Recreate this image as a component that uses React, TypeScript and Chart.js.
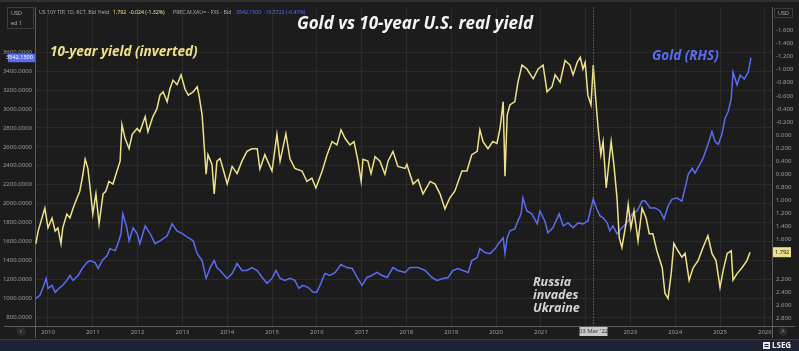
import React, { useEffect, useRef } from "react";
import { Chart, registerables } from "chart.js";

Chart.register(...registerables);

// ---- data (decimal years) ----
const goldYears = [
  2009.73, 2009.82, 2009.89, 2009.96, 2010.0, 2010.09, 2010.16, 2010.27, 2010.33, 2010.42,
  2010.49, 2010.56, 2010.67, 2010.78, 2010.87, 2010.94, 2011.05, 2011.12, 2011.21, 2011.32,
  2011.38, 2011.5, 2011.56, 2011.63, 2011.67, 2011.76, 2011.81, 2011.9, 2011.99, 2012.05,
  2012.17, 2012.28, 2012.39, 2012.5, 2012.66, 2012.77, 2012.88, 2013.01, 2013.13, 2013.24,
  2013.33, 2013.44, 2013.53, 2013.62, 2013.71, 2013.77, 2013.84, 2014.0, 2014.11, 2014.22,
  2014.33, 2014.44, 2014.55, 2014.67, 2014.78, 2014.89, 2015.0, 2015.09, 2015.18, 2015.29,
  2015.4, 2015.51, 2015.6, 2015.69, 2015.8, 2015.92, 2016.0, 2016.09, 2016.18, 2016.29,
  2016.41, 2016.54, 2016.67, 2016.79, 2016.9, 2017.01, 2017.12, 2017.23, 2017.34, 2017.46,
  2017.57, 2017.7, 2017.81, 2017.97, 2018.08, 2018.26, 2018.42, 2018.57, 2018.68, 2018.82,
  2018.93, 2019.04, 2019.15, 2019.26, 2019.38, 2019.46, 2019.58, 2019.64, 2019.75, 2019.87,
  2019.98, 2020.07, 2020.16, 2020.2, 2020.25, 2020.31, 2020.42, 2020.49, 2020.56, 2020.6,
  2020.69, 2020.8, 2020.92, 2020.98, 2021.09, 2021.16, 2021.27, 2021.41, 2021.5, 2021.61,
  2021.72, 2021.83, 2021.94, 2022.05, 2022.17, 2022.25, 2022.32, 2022.39, 2022.48, 2022.54,
  2022.61, 2022.7, 2022.81, 2022.92, 2023.04, 2023.15, 2023.26, 2023.33, 2023.44, 2023.55,
  2023.66, 2023.75, 2023.84, 2023.93, 2024.04, 2024.15, 2024.22, 2024.29, 2024.38, 2024.44,
  2024.55, 2024.62, 2024.73, 2024.82, 2024.89, 2024.96, 2025.04, 2025.11, 2025.18, 2025.25,
  2025.29, 2025.38, 2025.45, 2025.54, 2025.63, 2025.69,
];
const goldPrices = [
  999, 1031, 1115, 1209, 1104, 1136, 1062, 1115, 1136, 1188,
  1240, 1188, 1240, 1324, 1377, 1398, 1377, 1314, 1398, 1450,
  1524, 1503, 1576, 1681, 1891, 1744, 1607, 1744, 1681, 1576,
  1765, 1681, 1576, 1607, 1660, 1786, 1712, 1681, 1639, 1607,
  1471, 1398, 1209, 1324, 1398, 1324, 1293, 1209, 1261, 1366,
  1293, 1293, 1324, 1293, 1219, 1157, 1209, 1293, 1209, 1188,
  1209, 1188, 1104, 1136, 1115, 1062, 1062, 1157, 1261, 1240,
  1272, 1356, 1324, 1314, 1219, 1136, 1219, 1240, 1272, 1240,
  1219, 1324, 1293, 1272, 1324, 1324, 1293, 1219, 1188, 1209,
  1219, 1293, 1314, 1293, 1272, 1398, 1429, 1524, 1482, 1471,
  1524, 1587, 1639, 1471, 1639, 1712, 1733, 1817, 1891, 2058,
  1922, 1891, 1786, 1922, 1817, 1691, 1744, 1891, 1765, 1796,
  1744, 1796, 1786, 1817, 2048, 1943, 1870, 1849, 1796, 1712,
  1765, 1681, 1744, 1796, 1891, 1922, 2027, 2027, 1954, 1954,
  1922, 1838, 1975, 2048, 2058, 2027, 2163, 2310, 2373, 2321,
  2415, 2478, 2625, 2761, 2656, 2625, 2730, 2897, 2971, 3107,
  3390, 3254, 3359, 3317, 3390, 3542,
];

const yieldYears = [
  2009.73, 2009.78, 2009.93, 2010.0, 2010.09, 2010.16, 2010.22, 2010.29, 2010.33, 2010.42,
  2010.49, 2010.56, 2010.65, 2010.71, 2010.78, 2010.83, 2010.89, 2010.94, 2011.0, 2011.07,
  2011.14, 2011.23, 2011.29, 2011.36, 2011.45, 2011.54, 2011.61, 2011.65, 2011.72, 2011.81,
  2011.88, 2011.99, 2012.05, 2012.17, 2012.23, 2012.34, 2012.43, 2012.5, 2012.57, 2012.66,
  2012.72, 2012.79, 2012.88, 2012.97, 2013.06, 2013.13, 2013.24, 2013.33, 2013.37, 2013.44,
  2013.48, 2013.53, 2013.57, 2013.66, 2013.71, 2013.77, 2013.84, 2013.88, 2014.0, 2014.11,
  2014.22, 2014.33, 2014.44, 2014.55, 2014.67, 2014.73, 2014.84, 2015.0, 2015.11, 2015.18,
  2015.31, 2015.4, 2015.51, 2015.67, 2015.78, 2015.89, 2015.98, 2016.12, 2016.23, 2016.34,
  2016.45, 2016.54, 2016.63, 2016.74, 2016.83, 2016.92, 2016.99, 2017.03, 2017.14, 2017.21,
  2017.3, 2017.41, 2017.52, 2017.59, 2017.7, 2017.81, 2017.97, 2018.01, 2018.15, 2018.26,
  2018.37, 2018.53, 2018.64, 2018.75, 2018.86, 2018.97, 2019.08, 2019.24, 2019.35, 2019.46,
  2019.58, 2019.64, 2019.71, 2019.82, 2019.93, 2020.02, 2020.09, 2020.16, 2020.2, 2020.25,
  2020.31, 2020.42, 2020.49, 2020.58, 2020.69, 2020.83, 2020.94, 2021.05, 2021.14, 2021.25,
  2021.32, 2021.43, 2021.54, 2021.65, 2021.72, 2021.81, 2021.88, 2021.94, 2021.99, 2022.05,
  2022.12, 2022.17, 2022.23, 2022.28, 2022.34, 2022.39, 2022.46, 2022.5, 2022.57, 2022.63,
  2022.7, 2022.75, 2022.81, 2022.9, 2022.95, 2023.01, 2023.08, 2023.17, 2023.26, 2023.35,
  2023.42, 2023.5, 2023.59, 2023.71, 2023.77, 2023.84, 2023.91, 2023.97, 2024.06, 2024.15,
  2024.22, 2024.31, 2024.4, 2024.51, 2024.62, 2024.73, 2024.82, 2024.91, 2025.0, 2025.07,
  2025.16, 2025.25, 2025.29, 2025.38, 2025.49, 2025.6, 2025.67,
];
const realYields = [
  1.66, 1.47, 1.12, 1.42, 1.27, 1.47, 1.42, 1.66, 1.42, 1.21,
  1.27, 1.12, 0.96, 0.86, 0.6, 0.37, 0.51, 0.81, 1.21, 0.9,
  1.36, 0.9, 0.86, 0.71, 0.75, 0.55, 0.4, -0.16, 0.05, 0.21,
  -0.01, -0.1, -0.05, -0.28, -0.05, -0.28, -0.4, -0.61, -0.66, -0.51,
  -0.7, -0.84, -0.77, -0.92, -0.7, -0.61, -0.66, -0.74, -0.61, -0.31,
  0.1, 0.6, 0.3, 0.45, 0.9, 0.4, 0.36, 0.45, 0.75, 0.48,
  0.59, 0.4, 0.25, 0.21, 0.21, 0.52, 0.3, 0.55, -0.01, 0.4,
  -0.02, 0.36, 0.51, 0.55, 0.71, 0.66, 0.81, 0.55, 0.3, 0.1,
  0.15, -0.08, 0.05, 0.15, 0.1, 0.4, 0.71, 0.37, 0.4, 0.59,
  0.33, 0.4, 0.6, 0.4, 0.25, 0.48, 0.51, 0.45, 0.75, 0.68,
  0.9, 0.71, 0.75, 0.9, 1.13, 0.96, 0.86, 0.55, 0.55, 0.3,
  0.25, -0.08, 0.1, 0.21, 0.1, 0.13, -0.1, -0.51, 0.63, -0.31,
  -0.46, -0.51, -0.81, -1.07, -1.01, -0.86, -1.01, -1.07, -0.66, -0.74,
  -0.92, -0.81, -1.14, -1.07, -0.92, -1.11, -1.19, -1.01, -1.11, -0.61,
  -0.46, -1.07, -0.51, -0.1, 0.3, 0.1, 0.81, 0.55, 0.1, 0.45,
  0.96, 1.57, 1.72, 1.36, 1.06, 1.42, 1.16, 1.62, 1.12, 1.27,
  1.51, 1.51, 1.77, 2.03, 2.42, 2.5, 2.12, 1.66, 1.77, 1.87,
  1.81, 2.22, 2.03, 1.92, 1.72, 1.54, 1.81, 1.92, 2.33, 2.07,
  1.81, 1.77, 2.22, 2.12, 2.03, 1.92, 1.792,
];

const yearTicks = [2010, 2011, 2012, 2013, 2014, 2015, 2016, 2017, 2018, 2019, 2020, 2021, 2022, 2023, 2024, 2025, 2026];
const goldTicks = [800, 1000, 1200, 1400, 1600, 1800, 2000, 2200, 2400, 2600, 2800, 3000, 3200, 3400, 3600];
const yieldTicks = [-1.6, -1.4, -1.2, -1.0, -0.8, -0.6, -0.4, -0.2, 0, 0.2, 0.4, 0.6, 0.8, 1.0, 1.2, 1.4, 1.6, 2.2, 2.4, 2.6, 2.8];

const eventYear = 2022.17; // 03 Mar '22
const eventLabel = "03 Mar '22";
const lastGold = 3542.15;
const lastYield = 1.792;

const BG = "#1c1c1c";
const GRID = "#2a2a2a";
const AXIS_LINE = "#5c5c5c";
const TICK = "#9c9c9c";
const YELLOW = "#efe18a";
const BLUE = "#5a6cf0";
const ANNOT_FONT = "'Open Sans'";

const decorPlugin = {
  id: "decor",
  beforeDraw(chart: any) {
    const { ctx, width, height } = chart;
    ctx.save();
    ctx.fillStyle = BG;
    ctx.fillRect(0, 0, width, height);
    ctx.fillStyle = "#303030";
    ctx.fillRect(0, 0, width, 2);
    ctx.fillStyle = "#3a3a3a";
    ctx.fillRect(0, 339, width, 1);
    ctx.fillStyle = "#1e2333";
    ctx.fillRect(0, 340, width, height - 340);
    ctx.restore();
  },
  afterDraw(chart: any) {
    const { ctx, chartArea } = chart;
    const xs = chart.scales.x;
    const yl = chart.scales.y;
    const yr = chart.scales.y2;
    ctx.save();

    ctx.strokeStyle = AXIS_LINE;
    ctx.lineWidth = 1;
    ctx.beginPath();
    ctx.moveTo(4, chartArea.bottom + 0.5);
    ctx.lineTo(795, chartArea.bottom + 0.5);
    ctx.moveTo(chartArea.left + 0.5, chartArea.bottom);
    ctx.lineTo(chartArea.left + 0.5, 338);
    ctx.moveTo(chartArea.right + 0.5, chartArea.bottom);
    ctx.lineTo(chartArea.right + 0.5, 338);
    ctx.stroke();

    const ex = Math.round(xs.getPixelForValue(eventYear)) + 0.5;
    ctx.strokeStyle = "#8c8c8c";
    ctx.setLineDash([1, 2]);
    ctx.beginPath();
    ctx.moveTo(ex, chartArea.top);
    ctx.lineTo(ex, chartArea.bottom);
    ctx.stroke();
    ctx.setLineDash([]);

    ctx.fillStyle = "#c9c9c9";
    ctx.fillRect(ex - 14, 327, 28, 9);
    ctx.fillStyle = "#333";
    ctx.font = "6px 'Noto Sans'";
    ctx.textAlign = "center";
    ctx.textBaseline = "middle";
    ctx.fillText(eventLabel, ex, 331.5);

    ctx.textAlign = "left";
    ctx.font = "5.2px 'Noto Sans'";
    ctx.fillStyle = "#a8a8a8";
    ctx.fillText("US 10Y TIP, 1D, RCT, Bid Yield", 39, 13);
    ctx.fillStyle = YELLOW;
    ctx.fillText("1.792  -0.024 (-1.32%)", 113, 13);
    ctx.fillStyle = "#a8a8a8";
    ctx.fillText("PREC.M.XAU= - FXS - Bid", 173, 13);
    ctx.fillStyle = BLUE;
    ctx.fillText("3542.1500  -16.5722 (-0.47%)", 236, 13);

    ctx.strokeStyle = "#3c3c3c";
    ctx.strokeRect(7.5, 7.5, 26, 21);
    ctx.fillStyle = "#a8a8a8";
    ctx.font = "5.5px 'Noto Sans'";
    ctx.fillText("USD", 11, 13);
    ctx.fillText("ed 1", 11, 23);
    ctx.strokeRect(774.5, 8.5, 18, 9);
    ctx.textAlign = "center";
    ctx.fillText("USD", 783.5, 13);

    ctx.fillStyle = "#2c2c2c";
    ctx.beginPath();
    ctx.arc(21, 331.5, 4.5, 0, Math.PI * 2);
    ctx.fill();
    ctx.beginPath();
    ctx.arc(783, 331.5, 4.5, 0, Math.PI * 2);
    ctx.fill();
    ctx.fillStyle = "#8a8a8a";
    ctx.font = "5px 'Noto Sans'";
    ctx.fillText("z", 21, 331.5);
    ctx.fillText("A", 783, 331.5);

    ctx.fillStyle = "#e8e8e8";
    ctx.fillRect(763, 342, 7, 7);
    ctx.fillStyle = "#1e2333";
    ctx.fillRect(764.5, 344, 4, 1);
    ctx.fillRect(764.5, 346, 4, 1);
    ctx.fillStyle = "#f0f0f0";
    ctx.font = "bold 8px 'Noto Sans'";
    ctx.textAlign = "left";
    ctx.fillText("LSEG", 772, 345.5);

    ctx.fillStyle = "#f4f4f4";
    ctx.font = `italic bold 17px ${ANNOT_FONT}`;
    ctx.textAlign = "center";
    ctx.fillText("Gold vs 10-year U.S. real yield", 415, 24);

    ctx.textAlign = "left";
    ctx.fillStyle = YELLOW;
    ctx.font = `italic bold 13.5px ${ANNOT_FONT}`;
    ctx.fillText("10-year yield (inverted)", 50, 52);
    ctx.fillStyle = BLUE;
    ctx.font = `italic bold 13.5px ${ANNOT_FONT}`;
    ctx.fillText("Gold (RHS)", 652, 56);

    ctx.fillStyle = "#d4d4d4";
    ctx.font = `italic bold 12.5px ${ANNOT_FONT}`;
    ctx.fillText("Russia", 533, 282);
    ctx.fillText("invades", 533, 295);
    ctx.fillText("Ukraine", 533, 308);

    const gy = yl.getPixelForValue(lastGold);
    ctx.fillStyle = BLUE;
    ctx.fillRect(8, gy - 4, 27, 8.5);
    ctx.fillStyle = "#ffffff";
    ctx.font = "5.6px 'Noto Sans'";
    ctx.textAlign = "right";
    ctx.fillText(lastGold.toFixed(4), 33, gy);

    const ry = yr.getPixelForValue(lastYield);
    ctx.fillStyle = YELLOW;
    ctx.fillRect(773, ry - 5, 18, 10);
    ctx.fillStyle = "#222";
    ctx.textAlign = "left";
    ctx.fillText(lastYield.toFixed(3), 775, ry);

    ctx.restore();
  },
};

export default function App() {
  const ref = useRef<HTMLCanvasElement | null>(null);

  useEffect(() => {
    const canvas = ref.current;
    if (!canvas) return;
    const chart = new Chart(canvas, {
      type: "line",
      data: {
        datasets: [
          {
            label: "10-year yield (inverted)",
            data: yieldYears.map((x, i) => ({ x, y: realYields[i] })),
            yAxisID: "y2",
            borderColor: YELLOW,
            borderWidth: 1.5,
            pointRadius: 0,
            tension: 0,
          },
          {
            label: "Gold",
            data: goldYears.map((x, i) => ({ x, y: goldPrices[i] })),
            yAxisID: "y",
            borderColor: BLUE,
            borderWidth: 1.5,
            pointRadius: 0,
            tension: 0,
          },
        ],
      },
      options: {
        responsive: false,
        animation: false,
        devicePixelRatio: 1,
        layout: { padding: { top: 5, left: 0, right: 0, bottom: 0 } },
        plugins: { legend: { display: false }, tooltip: { enabled: false }, title: { display: false } },
        scales: {
          x: {
            type: "linear",
            min: 2009.71,
            max: 2026.16,
            afterBuildTicks: (s: any) => {
              s.ticks = yearTicks.map((v) => ({ value: v }));
            },
            afterFit: (s: any) => {
              s.height = 25;
            },
            ticks: {
              autoSkip: false,
              maxRotation: 0,
              padding: 3,
              color: TICK,
              font: { size: 6, family: "'Noto Sans'" },
              callback: (v: any) => (Number(v) === 2022 ? "" : String(v)),
            },
            grid: { color: GRID, drawTicks: false },
            border: { display: false },
          },
          y: {
            type: "linear",
            position: "left",
            min: 706,
            max: 4072,
            afterBuildTicks: (s: any) => {
              s.ticks = goldTicks.map((v) => ({ value: v }));
            },
            afterFit: (s: any) => {
              s.width = 35;
            },
            ticks: {
              padding: 3,
              color: TICK,
              font: { size: 6, family: "'Noto Sans'" },
              callback: (v: any) => Number(v).toFixed(4),
            },
            grid: { color: GRID, drawTicks: false },
            border: { color: AXIS_LINE },
          },
          y2: {
            type: "linear",
            position: "right",
            reverse: true,
            min: -1.949,
            max: 2.921,
            afterBuildTicks: (s: any) => {
              s.ticks = yieldTicks.map((v) => ({ value: v }));
            },
            afterFit: (s: any) => {
              s.width = 27;
            },
            ticks: {
              padding: 4,
              color: TICK,
              font: { size: 6, family: "'Noto Sans'" },
              callback: (v: any) => Number(v).toFixed(3),
            },
            grid: { display: false, drawTicks: false },
            border: { color: AXIS_LINE },
          },
        },
      },
      plugins: [decorPlugin],
    } as any);
    return () => chart.destroy();
  }, []);

  return (
    <div style={{ position: "fixed", left: 0, top: 0, width: 799, height: 351, background: BG }}>
      <canvas ref={ref} width={799} height={351} style={{ display: "block", width: 799, height: 351 }} />
    </div>
  );
}
